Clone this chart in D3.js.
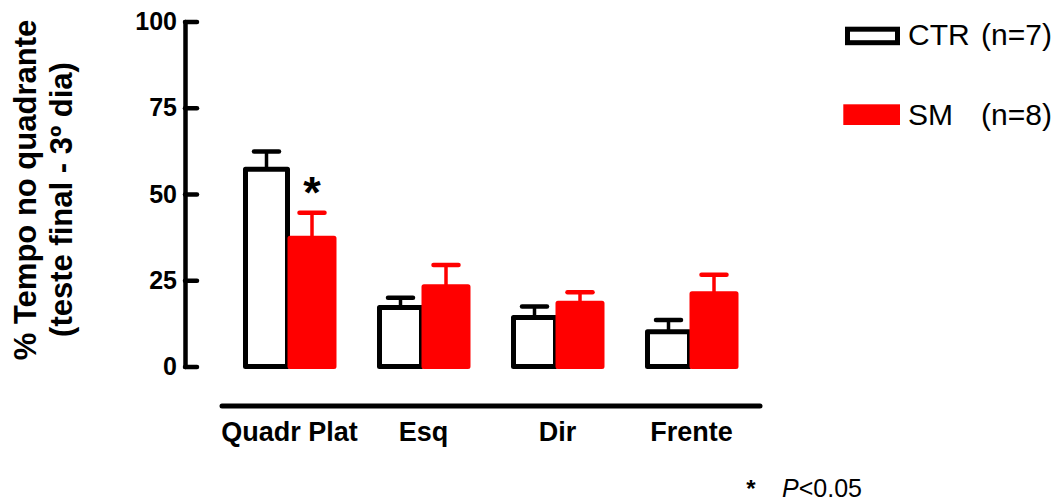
<!DOCTYPE html>
<html><head><meta charset="utf-8">
<script src="https://cdn.jsdelivr.net/npm/d3@7"></script>
<style>
body{margin:0;background:#fff}
svg{display:block}
text{font-family:"Liberation Sans",Arial,Helvetica,sans-serif}
</style>
</head><body>
<svg id="c" width="1062" height="502"></svg>
<script>
// ---- data ----
const categories = ["Quadr Plat", "Esq", "Dir", "Frente"];
const series = ["CTR", "SM"];
const ctrMean = [57.2, 17.1, 14.2, 10.1];
const ctrSem  = [5.1, 2.8, 3.2, 3.4];
const smMean  = [37.2, 23.1, 18.3, 21.1];
const smSem   = [7.4, 6.3, 3.2, 5.5];
const yTicks  = [0, 25, 50, 75, 100];
const legendNames = ["CTR", "SM"];
const legendN     = ["(n=7)", "(n=8)"];
const sigCategories = ["Quadr Plat"];
const yTitleLines = ["% Tempo no quadrante", "(teste final - 3º dia)"];
const footnoteText = "<0.05";

const FONT = '"Liberation Sans",Arial,Helvetica,sans-serif';
const RED = "#ff0000";
const svg = d3.select("#c");

const x = d3.scaleBand().domain(categories).range([221.5, 759.5]).paddingInner(0).paddingOuter(0.00746);
const sub = d3.scaleBand().domain(series).range([-44, 44]).padding(0);
const y = d3.scaleLinear().domain([0, 100]).range([366.5, 21.5]);
const cx = d => x(d) + x.bandwidth() / 2;

// ---- y axis ----
const gy = svg.append("g").attr("transform", "translate(185,0)")
  .call(d3.axisLeft(y).tickValues(yTicks).tickSize(-12).tickSizeOuter(0).tickPadding(8))
  .attr("font-family", FONT).attr("font-size", 25);
gy.select(".domain").attr("stroke", "#000").attr("stroke-width", 4.5).attr("stroke-linecap", "round");
gy.selectAll(".tick line").attr("stroke", "#000").attr("stroke-width", 4.5).attr("stroke-linecap", "round");
gy.selectAll(".tick text").attr("fill", "#000").attr("font-weight", "bold");

// ---- x axis ----
const gx = svg.append("g").attr("transform", "translate(0,405.5)")
  .call(d3.axisBottom(x).tickSize(0).tickSizeOuter(0))
  .attr("font-family", FONT).attr("font-size", 27);
gx.select(".domain").attr("stroke", "#000").attr("stroke-width", 5).attr("stroke-linecap", "round");
gx.selectAll(".tick text").attr("fill", "#000").attr("font-weight", "bold").attr("y", 35).attr("dy", 0);

// ---- bars ----
const ctrData = categories.map((c, i) => ({c, v: ctrMean[i], e: ctrSem[i]}));
const smData  = categories.map((c, i) => ({c, v: smMean[i], e: smSem[i]}));

function drawSeries(data, key, color, fill, xOff, wAdj) {
  const g = svg.append("g");
  g.selectAll("rect").data(data).join("rect")
    .attr("x", d => cx(d.c) + sub(key) + xOff)
    .attr("width", sub.bandwidth() + wAdj)
    .attr("y", d => y(d.v))
    .attr("height", d => y(0) - y(d.v))
    .attr("fill", fill).attr("stroke", color).attr("stroke-width", 5)
    .attr("stroke-linejoin", "round");
  const mid = d => cx(d.c) + sub(key) + xOff + (sub.bandwidth() + wAdj) / 2;
  g.selectAll("line.stem").data(data).join("line").attr("class", "stem")
    .attr("x1", mid).attr("x2", mid)
    .attr("y1", d => y(d.v)).attr("y2", d => y(d.v + d.e))
    .attr("stroke", color).attr("stroke-width", 3.5);
  g.selectAll("line.cap").data(data).join("line").attr("class", "cap")
    .attr("x1", d => mid(d) - 12.5).attr("x2", d => mid(d) + 12.5)
    .attr("y1", d => y(d.v + d.e)).attr("y2", d => y(d.v + d.e))
    .attr("stroke", color).attr("stroke-width", 4.5).attr("stroke-linecap", "round");
}
drawSeries(ctrData, "CTR", "#000", "#fff", 0, -2);
drawSeries(smData, "SM", RED, RED, 0.5, 0);

// significance star
svg.selectAll("text.sig").data(sigCategories).join("text").attr("class", "sig")
  .attr("x", d => cx(d) + sub("SM") + 0.5 + sub.bandwidth() / 2)
  .attr("y", d => { const i = categories.indexOf(d); return y(smMean[i] + smSem[i]) - 5; })
  .attr("text-anchor", "middle").attr("font-size", 45).attr("font-weight", "bold").text("*");

// ---- y title ----
const titleX = [36, 71.5], titleY = [190, 199.5];
svg.selectAll("text.ytitle").data(yTitleLines).join("text").attr("class", "ytitle")
  .attr("transform", (d, i) => `translate(${titleX[i]},${titleY[i]}) rotate(-90)`)
  .attr("text-anchor", "middle").attr("font-size", 31).attr("font-weight", "bold").text(d => d);

// ---- legend ----
const lg = svg.append("g");
lg.append("rect").attr("x", 847.5).attr("y", 29.2).attr("width", 50).attr("height", 13.5)
  .attr("fill", "#fff").attr("stroke", "#000").attr("stroke-width", 5);
lg.append("rect").attr("x", 843.3).attr("y", 104.3).attr("width", 56.7).attr("height", 20.7).attr("fill", RED);
lg.selectAll("text.ln").data(legendNames).join("text").attr("class", "ln")
  .attr("x", 908).attr("y", (d, i) => 45 + i * 80).attr("font-size", 30).text(d => d);
lg.selectAll("text.nn").data(legendN).join("text").attr("class", "nn")
  .attr("x", 981).attr("y", (d, i) => 45 + i * 80).attr("font-size", 30).text(d => d);

// ---- footnote ----
svg.append("text").attr("x", 751).attr("y", 497).attr("text-anchor", "middle")
  .attr("font-size", 24).attr("font-weight", "bold").text("*");
const fn = svg.append("text").attr("x", 782).attr("y", 496.5).attr("font-size", 25);
fn.append("tspan").attr("font-style", "italic").text("P");
fn.append("tspan").text(footnoteText);
</script>
</body></html>
